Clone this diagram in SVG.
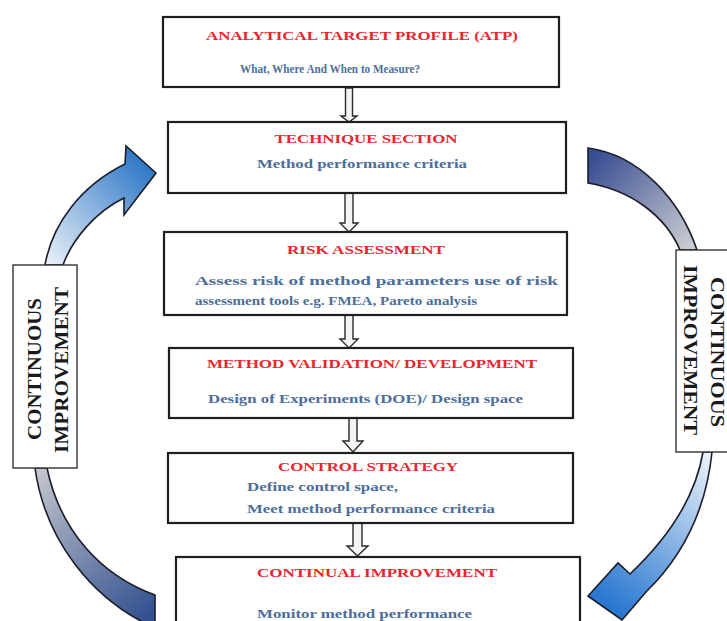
<svg xmlns="http://www.w3.org/2000/svg" width="727" height="621" viewBox="0 0 727 621">
<defs>
<style>
.box{fill:#fff;stroke:#1e1e1e;stroke-width:2.2}
.lbl{fill:#fff;stroke:#333;stroke-width:1.4}
.t{font-family:"Liberation Serif","Times New Roman",serif;font-weight:bold;font-size:13px;fill:#e8262d;text-anchor:middle}
.b{font-family:"Liberation Serif","Times New Roman",serif;font-weight:bold;font-size:12.5px;fill:#4e6e9a}
.v{font-family:"Liberation Serif","Times New Roman",serif;font-weight:bold;font-size:19px;fill:#1a1a1a;text-anchor:middle}
.da{fill:#f4f4f4;stroke:#2a2a2a;stroke-width:1.4}
.ca{stroke:#1b1d2b;stroke-width:1.6}
</style>
<linearGradient id="gLT" gradientUnits="userSpaceOnUse" x1="50" y1="265" x2="150" y2="165"><stop offset="0" stop-color="#e8f0f8"/><stop offset="1" stop-color="#2c76c6"/></linearGradient>
<linearGradient id="gLB" gradientUnits="userSpaceOnUse" x1="40" y1="470" x2="155" y2="612"><stop offset="0" stop-color="#c3c6cc"/><stop offset="1" stop-color="#33508f"/></linearGradient>
<linearGradient id="gRT" gradientUnits="userSpaceOnUse" x1="588" y1="165" x2="690" y2="250"><stop offset="0" stop-color="#3a4e92"/><stop offset="1" stop-color="#cbcdd2"/></linearGradient>
<linearGradient id="gRB" gradientUnits="userSpaceOnUse" x1="708" y1="455" x2="598" y2="595"><stop offset="0" stop-color="#eaf1f9"/><stop offset="1" stop-color="#2a78d0"/></linearGradient>
</defs>
<rect width="727" height="621" fill="#fff"/>

<g id="connectors">
<path class="da" d="M345.5,88 H352.5 V116 H357 L349,122 L341,116 H345.5 Z"/>
<path class="da" d="M345,193 H353 V223 H358 L349,232 L340,223 H345 Z" fill="#e4e4e4"/>
<path class="da" d="M345,315 H353 V339 H358 L349,348 L340,339 H345 Z"/>
<path class="da" d="M349,418 H357 V441 H363 L353,452 L343,441 H349 Z"/>
<path class="da" d="M353,523 H362 V546 H368 L357.5,556 L347,546 H353 Z"/>
<path class="ca" fill="url(#gLT)" d="M45,265 C52,225 80,186 125,164 L126,146 L156,173 L124,215 L124,198 C95,212 72,240 63,265 Z"/>
<path class="ca" fill="url(#gLB)" d="M35,468 C45,540 92,600 155,628 L155,595 C100,575 60,530 47,468 Z"/>
<path class="ca" fill="url(#gRT)" d="M588,148 C640,155 680,200 697,250 L680,250 C665,215 630,190 588,183 Z"/>
<path class="ca" fill="url(#gRB)" d="M712,452 C706,510 684,555 646,592 L622,620 L588,596 L618,563 L630,574 C666,540 695,500 703,452 Z"/>
</g>

<g id="node-atp">
<rect class="box" x="163" y="17" width="396" height="70"/>
<text class="t" x="362" y="40" textLength="312" lengthAdjust="spacingAndGlyphs">ANALYTICAL TARGET PROFILE (ATP)</text>
<text class="b" x="330" y="73" font-size="11" text-anchor="middle" textLength="180" lengthAdjust="spacingAndGlyphs">What, Where And When to Measure?</text>
</g>

<g id="node-technique">
<rect class="box" x="168" y="122" width="398" height="71"/>
<text class="t" x="366" y="143" textLength="183" lengthAdjust="spacingAndGlyphs">TECHNIQUE SECTION</text>
<text class="b" x="362" y="168" text-anchor="middle" textLength="210" lengthAdjust="spacingAndGlyphs">Method performance criteria</text>
</g>

<g id="node-risk">
<rect class="box" x="164" y="232" width="403" height="83"/>
<text class="t" x="366" y="254" textLength="158" lengthAdjust="spacingAndGlyphs">RISK ASSESSMENT</text>
<text class="b" x="195" y="285" textLength="363" lengthAdjust="spacingAndGlyphs">Assess risk of method parameters use of risk</text>
<text class="b" x="195" y="305" textLength="282" lengthAdjust="spacingAndGlyphs">assessment tools e.g. FMEA, Pareto analysis</text>
</g>

<g id="node-validation">
<rect class="box" x="169" y="348" width="404" height="70"/>
<text class="t" x="372" y="368" textLength="330" lengthAdjust="spacingAndGlyphs">METHOD VALIDATION/ DEVELOPMENT</text>
<text class="b" x="208" y="403" textLength="315" lengthAdjust="spacingAndGlyphs">Design of Experiments (DOE)/ Design space</text>
</g>

<g id="node-control">
<rect class="box" x="168" y="453" width="405" height="70"/>
<text class="t" x="368" y="471" textLength="180" lengthAdjust="spacingAndGlyphs">CONTROL STRATEGY</text>
<text class="b" x="247" y="491" textLength="151" lengthAdjust="spacingAndGlyphs">Define control space,</text>
<text class="b" x="247" y="513" textLength="248" lengthAdjust="spacingAndGlyphs">Meet method performance criteria</text>
</g>

<g id="node-continual">
<rect class="box" x="176" y="557" width="404" height="80"/>
<text class="t" x="377" y="577" textLength="240" lengthAdjust="spacingAndGlyphs">CONTINUAL IMPROVEMENT</text>
<text class="b" x="257" y="618" textLength="215" lengthAdjust="spacingAndGlyphs">Monitor method performance</text>
</g>

<g id="label-left">
<rect class="lbl" x="13" y="265" width="64" height="203"/>
<text class="v" transform="translate(40.5,369) rotate(-90)" textLength="142" lengthAdjust="spacingAndGlyphs">CONTINUOUS</text>
<text class="v" transform="translate(67.5,370) rotate(-90)" textLength="166" lengthAdjust="spacingAndGlyphs">IMPROVEMENT</text>
</g>

<g id="label-right">
<rect class="lbl" x="676" y="250" width="60" height="202"/>
<text class="v" transform="translate(711,352) rotate(90)" textLength="150" lengthAdjust="spacingAndGlyphs">CONTINUOUS</text>
<text class="v" transform="translate(684,350) rotate(90)" textLength="170" lengthAdjust="spacingAndGlyphs">IMPROVEMENT</text>
</g>
</svg>
